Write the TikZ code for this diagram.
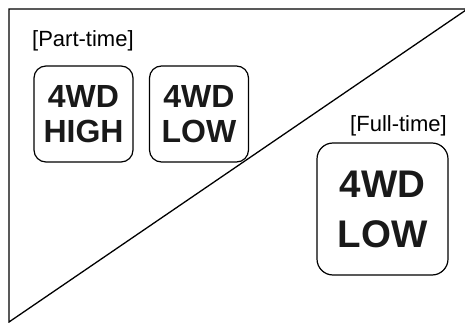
\documentclass[tikz,border=0pt]{standalone}
\usepackage{fontspec}
\setmainfont{Liberation Sans}
\begin{document}
\begin{tikzpicture}[x=1pt,y=-1pt,
  modebox/.style={draw, line width=1.2pt, rounded corners=12pt, align=center, inner sep=0pt,
    minimum width=99pt, minimum height=96pt, font=\bfseries\fontsize{32}{35}\selectfont, text=black!90},
  bigbox/.style={modebox, rounded corners=16pt, minimum width=131pt, minimum height=132pt,
    font=\bfseries\fontsize{38.5}{50}\selectfont},
  lbl/.style={inner sep=0pt, font=\fontsize{22}{26}\selectfont}]
\useasboundingbox (0,0) rectangle (465,323);
\coordinate (tr) at (466,9);
\coordinate (tl) at (9,9);
\coordinate (bl) at (9,322);
\coordinate (dr) at (466,10);
\draw[line width=1.3pt] (tr) -- (tl) -- (bl) -- (dr);
\node[lbl, anchor=base west] (pt) at (32,47) {[Part-time]};
\node[lbl, anchor=base east] (ft) at (447,132) {[Full-time]};
\node[modebox] (hi) at (83.5,114) {4WD\\HIGH};
\node[modebox] (lo) at (199,114) {4WD\\LOW};
\node[bigbox] (flo) at (382.5,209) {4WD\\LOW};
\end{tikzpicture}
\end{document}
